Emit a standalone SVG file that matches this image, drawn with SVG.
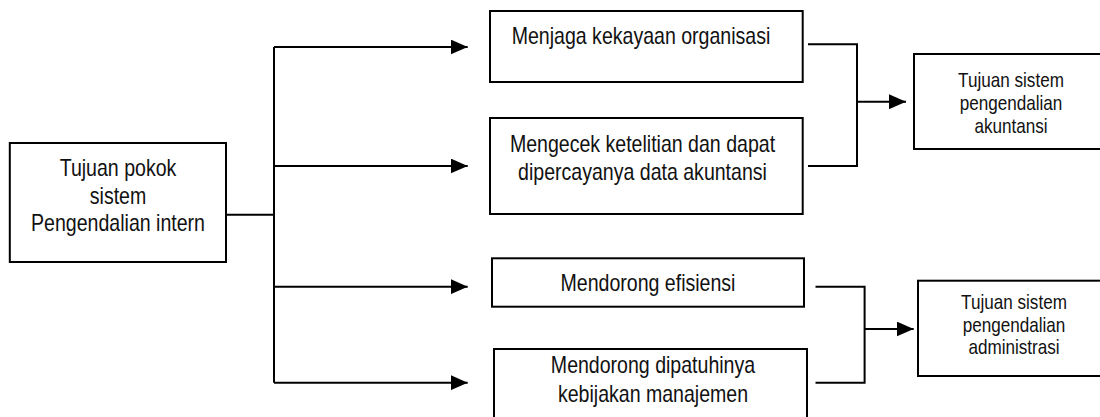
<svg xmlns="http://www.w3.org/2000/svg" width="1100" height="417" viewBox="0 0 1100 417">
<defs>
<style>
.box{fill:#fff;stroke:#000;stroke-width:2}
.ln{fill:none;stroke:#000;stroke-width:2}
.t{font-family:"Liberation Sans",Arial,sans-serif;font-size:24px;fill:#111;text-anchor:middle}
.s{font-family:"Liberation Sans",Arial,sans-serif;font-size:21px;fill:#111;text-anchor:middle}
</style>
<marker id="ah" markerUnits="userSpaceOnUse" markerWidth="17" markerHeight="15" refX="17" refY="7.5" orient="auto" viewBox="0 0 17 15">
<path d="M0,0 L17,7.5 L0,15 z" fill="#000"/>
</marker>
</defs>
<rect width="1100" height="417" fill="#fff"/>
<g id="connectors">
<path class="ln" d="M226,214.7 H274"/>
<path class="ln" d="M274,47 V382.7"/>
<path class="ln" d="M274,47 H467.7" marker-end="url(#ah)"/>
<path class="ln" d="M274,166 H467.7" marker-end="url(#ah)"/>
<path class="ln" d="M274,286.7 H467.7" marker-end="url(#ah)"/>
<path class="ln" d="M274,382.7 H467.7" marker-end="url(#ah)"/>
<path class="ln" d="M808,44.3 H857 V166 H808"/>
<path class="ln" d="M857,101.7 H906" marker-end="url(#ah)"/>
<path class="ln" d="M815.5,286.7 H864.6 V382.7 H815.5"/>
<path class="ln" d="M864.6,329 H913.7" marker-end="url(#ah)"/>
</g>
<g id="n-pokok">
<rect class="box" x="9.8" y="143" width="216.2" height="119"/>
<text class="t" transform="translate(118,176) scale(0.815,1)">Tujuan pokok</text>
<text class="t" transform="translate(118,203.5) scale(0.815,1)">sistem</text>
<text class="t" transform="translate(118,231) scale(0.815,1)">Pengendalian intern</text>
</g>
<g id="n-menjaga">
<rect class="box" x="490" y="11" width="312.7" height="71"/>
<text class="t" transform="translate(641,44) scale(0.815,1)">Menjaga kekayaan organisasi</text>
</g>
<g id="n-mengecek">
<rect class="box" x="490" y="118" width="312.7" height="96"/>
<text class="t" transform="translate(642.5,151.5) scale(0.815,1)">Mengecek ketelitian dan dapat</text>
<text class="t" transform="translate(642.5,180) scale(0.815,1)">dipercayanya data akuntansi</text>
</g>
<g id="n-efisiensi">
<rect class="box" x="492" y="258.3" width="312" height="48.4"/>
<text class="t" transform="translate(648,291) scale(0.815,1)">Mendorong efisiensi</text>
</g>
<g id="n-dipatuhi">
<rect class="box" x="494" y="349" width="313" height="90"/>
<text class="t" transform="translate(653,373) scale(0.815,1)">Mendorong dipatuhinya</text>
<text class="t" transform="translate(653,401.5) scale(0.815,1)">kebijakan manajemen</text>
</g>
<g id="n-akuntansi">
<rect class="box" x="914" y="54" width="194" height="95"/>
<text class="s" transform="translate(1011,87) scale(0.815,1)">Tujuan sistem</text>
<text class="s" transform="translate(1011,110) scale(0.815,1)">pengendalian</text>
<text class="s" transform="translate(1011,133) scale(0.815,1)">akuntansi</text>
</g>
<g id="n-administrasi">
<rect class="box" x="918" y="280.7" width="192" height="95.3"/>
<text class="s" transform="translate(1014,309) scale(0.815,1)">Tujuan sistem</text>
<text class="s" transform="translate(1014,331.5) scale(0.815,1)">pengendalian</text>
<text class="s" transform="translate(1014,354) scale(0.815,1)">administrasi</text>
</g>
</svg>
